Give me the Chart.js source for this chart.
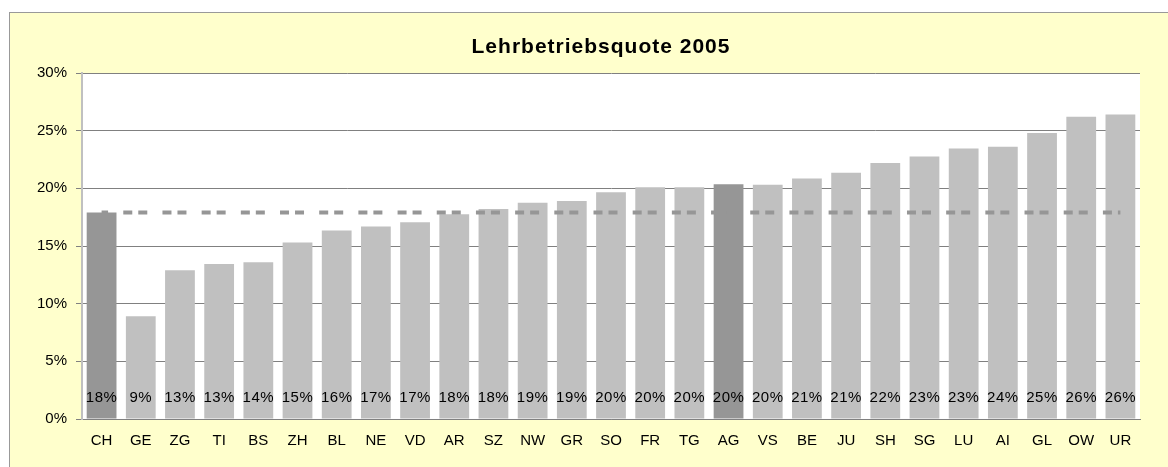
<!DOCTYPE html>
<html>
<head>
<meta charset="utf-8">
<script src="https://cdn.jsdelivr.net/npm/chart.js@4.4.1/dist/chart.umd.min.js"></script>
<style>
  html, body { margin: 0; padding: 0; background: #fff; }
  #frame {
    position: absolute; left: 9px; top: 12px;
    width: 1170px; height: 470px;
    background: #FFFFCC; border: 1px solid #999;
  }
  #wrap { position: absolute; left: 0; top: 0; width: 1168px; height: 467px; }
</style>
</head>
<body>
<div id="frame"></div>
<div id="wrap"><canvas id="chartQuote"></canvas></div>
<script>
// ===== Lehrbetriebsquote 2005 =====

const cantons = ['CH', 'GE', 'ZG', 'TI', 'BS', 'ZH', 'BL', 'NE', 'VD', 'AR', 'SZ', 'NW', 'GR', 'SO',
  'FR', 'TG', 'AG', 'VS', 'BE', 'JU', 'SH', 'SG', 'LU', 'AI', 'GL', 'OW', 'UR'];

const quote = [17.9, 8.9, 12.9, 13.45, 13.6, 15.3, 16.35, 16.7, 17.05, 17.75, 18.2, 18.75, 18.9, 19.65,
  20.1, 20.1, 20.35, 20.3, 20.85, 21.35, 22.2, 22.75, 23.45, 23.6, 24.8, 26.2, 26.4];

// Durchschnitt Schweiz
const mittelCH = [17.9, 17.9, 17.9, 17.9, 17.9, 17.9, 17.9, 17.9, 17.9, 17.9, 17.9, 17.9, 17.9, 17.9,
  17.9, 17.9, 17.9, 17.9, 17.9, 17.9, 17.9, 17.9, 17.9, 17.9, 17.9, 17.9, 17.9];

const yTicks = [0, 5, 10, 15, 20, 25, 30];

const C = {
  bar:     '#C0C0C0',
  barDark: '#969696',
  line:    '#969696',
  grid:    '#808080',
  text:    '#000'
};
const FONT = "'Liberation Sans', Arial, sans-serif";

const plotBackground = {
  id: 'plotBackground',
  beforeDraw(chart) {
    const { ctx, chartArea: { left, top, right, bottom } } = chart;
    ctx.save();
    ctx.fillStyle = '#fff';
    ctx.fillRect(left, top, right - left, bottom - top);
    ctx.restore();
  }
};

// Titel (Excel-Stil, leicht gesperrt)
const chartTitle = {
  id: 'chartTitle',
  afterDraw(chart) {
    const { ctx } = chart;
    ctx.save();
    ctx.font = `bold 21px ${FONT}`;
    ctx.letterSpacing = '1px';
    ctx.fillStyle = C.text;
    ctx.textAlign = 'center';
    ctx.textBaseline = 'middle';
    ctx.fillText('Lehrbetriebsquote 2005', 601, 47);
    ctx.restore();
  }
};

const baseLabels = {
  id: 'baseLabels',
  afterDatasetsDraw(chart) {
    const { ctx } = chart;
    const meta = chart.getDatasetMeta(0);
    const y = chart.scales.y.getPixelForValue(0) - 21;
    ctx.save();
    ctx.font = `15px ${FONT}`;
    ctx.letterSpacing = '0.5px';
    ctx.fillStyle = C.text;
    ctx.textAlign = 'center';
    ctx.textBaseline = 'middle';
    meta.data.forEach((bar, i) => {
      ctx.fillText(Math.round(quote[i]) + '%', bar.x, y);
    });
    ctx.restore();
  }
};

new Chart(document.getElementById('chartQuote'), {
  data: {
    labels: cantons,
    datasets: [
      {
        type: 'bar',
        label: 'Lehrbetriebsquote',
        data: quote,
        backgroundColor: cantons.map(c => (c === 'CH' || c === 'AG') ? C.barDark : C.bar),
        barPercentage: 0.76,
        categoryPercentage: 1,
        order: 2
      },
      {
        type: 'line',
        label: 'Durchschnitt CH',
        data: mittelCH,
        borderColor: C.line,
        borderWidth: 4,
        borderDash: [9, 6, 9, 15.185],
        borderDashOffset: 17.5,
        borderCapStyle: 'butt',
        pointRadius: 0,
        fill: false,
        order: 1
      }
    ]
  },
  options: {
    responsive: true, maintainAspectRatio: false,
    animation: false,
    layout: { padding: { left: 10, right: 28, top: 73, bottom: 0 } },
    plugins: {
      legend: { display: false },
      tooltip: { enabled: false },
      title: { display: false }
    },
    scales: {
      x: {
        grid: { display: false, drawTicks: false },
        border: { color: C.grid, width: 1 },
        ticks: { color: C.text, font: { family: FONT, size: 15 }, padding: 13, maxRotation: 0, autoSkip: false },
        afterFit(scale) { scale.height = 48; }
      },
      y: {
        min: 0, max: 30,
        afterBuildTicks(scale) { scale.ticks = yTicks.map(v => ({ value: v })); },
        grid: { color: C.grid, lineWidth: 1, tickLength: 6, tickColor: C.grid },
        border: { color: '#C0C0C0', width: 2 },
        ticks: {
          color: C.text, font: { family: FONT, size: 15 }, padding: 9,
          callback: v => v + '%'
        },
        afterFit(scale) { scale.width = 72; }
      }
    }
  },
  plugins: [plotBackground, baseLabels, chartTitle]
});
</script>
</body>
</html>
